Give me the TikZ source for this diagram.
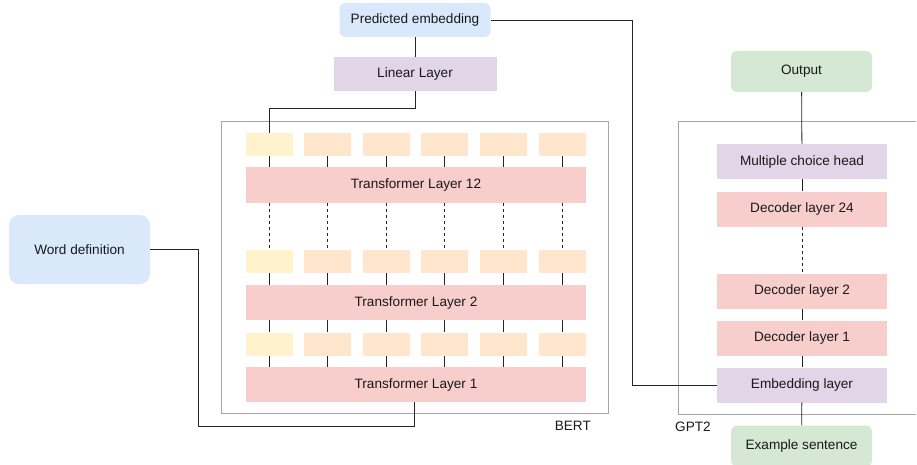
\documentclass[tikz,border=0pt]{standalone}
\usepackage{fontspec}
\setmainfont{Liberation Sans}
\definecolor{bluebox}{HTML}{DAE8FC}
\definecolor{purplebox}{HTML}{E1D5E7}
\definecolor{redbox}{HTML}{F8CECC}
\definecolor{yellowbox}{HTML}{FFF2CC}
\definecolor{orangebox}{HTML}{FFE6CC}
\definecolor{greenbox}{HTML}{D5E8D4}
\definecolor{framegray}{HTML}{A6A6A6}
\definecolor{wire}{HTML}{262626}
\tikzset{
  blk/.style={inner sep=0pt, text=black!90, font=\fontsize{13.6}{16}\selectfont},
  io/.style={blk, rounded corners=6pt, minimum width=141pt, minimum height=41pt},
  layer/.style={blk, fill=redbox, minimum width=340pt, minimum height=35pt},
  dec/.style={blk, minimum width=170pt, minimum height=35pt},
  tok/.style={inner sep=0pt, fill=orangebox, minimum width=47pt, minimum height=23pt},
  frame/.style={draw=framegray, line width=0.8pt},
  wire/.style={draw=wire, line width=0.8pt},
}
\begin{document}
\begin{tikzpicture}[x=1pt,y=-1pt]
  \useasboundingbox (0,0) rectangle (917,465);
  % containers
  \draw[frame] (221,121) rectangle (608,413);
  \draw[frame] (916,121) -- (678,121) -- (678,414) -- (916,414);
  \node[blk, anchor=east] (bert) at (591,426) {BERT};
  \node[blk, anchor=west] (gpt) at (675,427) {GPT2};

  % BERT side
  \node[blk, fill=bluebox, rounded corners=6pt, minimum width=151pt, minimum height=34pt] (pred) at (415,20) {Predicted embedding};
  \node[blk, fill=purplebox, minimum width=163pt, minimum height=34pt] (lin) at (415,74) {Linear Layer};
  \node[io, fill=bluebox, rounded corners=10pt, minimum height=69pt] (word) at (79.5,249.5) {Word definition};
  \node[layer] (tl12) at (416,185) {Transformer Layer 12};
  \node[layer] (tl2) at (416,302.5) {Transformer Layer 2};
  \node[layer] (tl1) at (416,384.5) {Transformer Layer 1};
  \foreach \i in {1,...,6}{
    \node[tok] (ta-\i) at ({269+(\i-1)*58.6},144.5) {};
    \node[tok] (tb-\i) at ({269+(\i-1)*58.6},261.5) {};
    \node[tok] (tc-\i) at ({269+(\i-1)*58.6},344) {};
  }
  \node[tok, fill=yellowbox] at (ta-1) {};
  \node[tok, fill=yellowbox] at (tb-1) {};
  \node[tok, fill=yellowbox] at (tc-1) {};
  \foreach \i in {1,...,6}{
    \draw[wire] (ta-\i.south) -- (ta-\i.south |- tl12.north);
    \draw[wire, dashed] (tl12.south -| tb-\i.north) -- (tb-\i.north);
    \draw[wire] (tb-\i.south) -- (tb-\i.south |- tl2.north);
    \draw[wire] (tl2.south -| tc-\i.north) -- (tc-\i.north);
    \draw[wire] (tc-\i.south) -- (tc-\i.south |- tl1.north);
  }
  \draw[wire] (pred.south) -- (lin.north);
  \draw[wire] (lin.south) -- ++(0,17) -| (ta-1.north);
  \coordinate (wturn) at (198,426);
  \draw[wire] (word.east) -| (wturn) -| ([xshift=-2pt]tl1.south);

  % GPT2 side
  \node[io, fill=greenbox] (out) at (801.5,71.5) {Output};
  \node[dec, fill=purplebox] (mch) at (802,161.5) {Multiple choice head};
  \node[dec, fill=redbox] (d24) at (802,209) {Decoder layer 24};
  \node[dec, fill=redbox] (d2) at (802,291) {Decoder layer 2};
  \node[dec, fill=redbox] (d1) at (802,338) {Decoder layer 1};
  \node[dec, fill=purplebox] (emb) at (802,385) {Embedding layer};
  \node[io, fill=greenbox] (ex) at (801.5,446) {Example sentence};
  \draw[wire] (out) -- (mch);
  \draw[wire] (mch) -- (d24);
  \draw[wire, dashed] (d24) -- (d2);
  \draw[wire] (d2) -- (d1);
  \draw[wire] (d1) -- (emb);
  \draw[wire] (emb) -- (ex);
  \coordinate (pturn) at (632,385);
  \draw[wire] (pred.east) -| (pturn) -- (emb.west);
\end{tikzpicture}
\end{document}
